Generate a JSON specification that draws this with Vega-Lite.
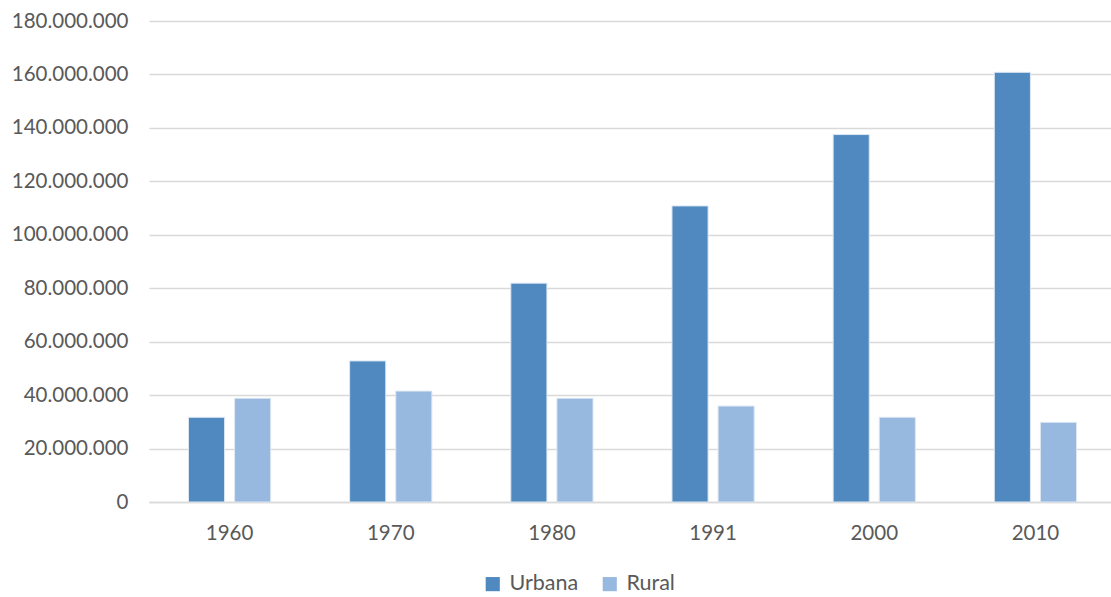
{
  "$schema": "https://vega.github.io/schema/vega-lite/v6.json",
  "width": 967,
  "height": 481,
  "autosize": {"type": "none"},
  "padding": {"left": 149, "top": 21, "right": 0, "bottom": 95},
  "background": "white",
  "config": {
    "locale": {"number": {"decimal": ",", "thousands": ".", "grouping": [3], "currency": ["", ""]}},
    "view": {"stroke": null},
    "font": "Lato"
  },
  "data": {
    "values": [
      {"ano": "1960", "tipo": "Urbana", "pop": 31700000},
      {"ano": "1960", "tipo": "Rural", "pop": 38800000},
      {"ano": "1970", "tipo": "Urbana", "pop": 52800000},
      {"ano": "1970", "tipo": "Rural", "pop": 41500000},
      {"ano": "1980", "tipo": "Urbana", "pop": 81900000},
      {"ano": "1980", "tipo": "Rural", "pop": 38800000},
      {"ano": "1991", "tipo": "Urbana", "pop": 110800000},
      {"ano": "1991", "tipo": "Rural", "pop": 35900000},
      {"ano": "2000", "tipo": "Urbana", "pop": 137500000},
      {"ano": "2000", "tipo": "Rural", "pop": 31700000},
      {"ano": "2010", "tipo": "Urbana", "pop": 160800000},
      {"ano": "2010", "tipo": "Rural", "pop": 29800000}
    ]
  },
  "mark": {"type": "bar", "stroke": "#dce6f2", "strokeWidth": 1},
  "encoding": {
    "x": {
      "field": "ano", "type": "nominal", "title": null,
      "scale": {"paddingInner": 0.49, "paddingOuter": 0.245},
      "axis": {"labelAngle": 0, "labelFontSize": 20.5, "labelColor": "#595959", "ticks": false, "domainColor": "#d9d9d9", "domainWidth": 1.5, "labelPadding": 21, "labelFont": "Lato"}
    },
    "xOffset": {
      "field": "tipo", "type": "nominal", "sort": ["Urbana", "Rural"],
      "scale": {"paddingInner": 0.217, "paddingOuter": 0}
    },
    "y": {
      "field": "pop", "type": "quantitative", "title": null,
      "scale": {"domain": [0, 180000000], "nice": false},
      "axis": {
        "values": [0, 20000000, 40000000, 60000000, 80000000, 100000000, 120000000, 140000000, 160000000, 180000000],
        "format": ",d", "domain": false, "ticks": false, "labelFontSize": 20.5, "labelColor": "#595959",
        "gridColor": "#d9d9d9", "gridWidth": 1.5, "labelPadding": 21, "labelFont": "Lato"
      }
    },
    "color": {
      "field": "tipo", "type": "nominal", "sort": ["Urbana", "Rural"],
      "scale": {"domain": ["Urbana", "Rural"], "range": ["#4f89bf", "#98b9df"]},
      "legend": {
        "title": null, "orient": "none", "direction": "horizontal",
        "legendX": 333, "legendY": 552,
        "symbolType": "square", "symbolSize": 200, "symbolStrokeWidth": 0,
        "labelFontSize": 21.5, "labelColor": "#595959", "columnPadding": 20, "labelOffset": 6, "labelFont": "Lato"
      }
    }
  }
}
